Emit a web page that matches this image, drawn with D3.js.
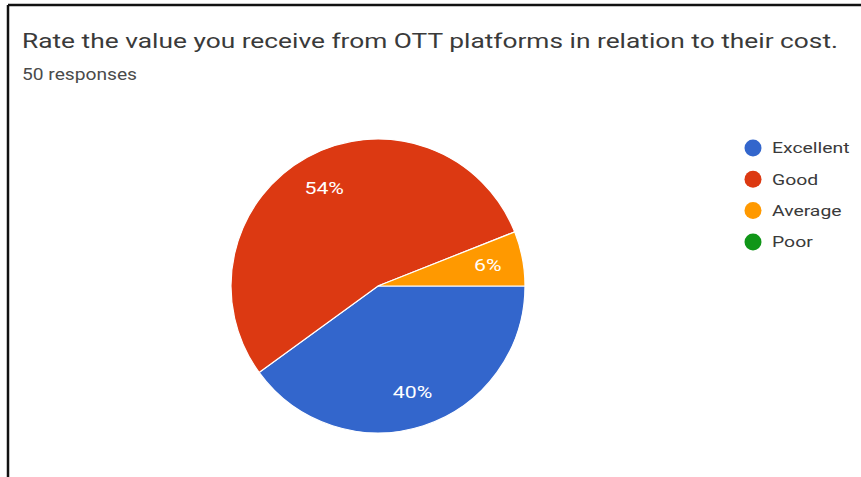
<!DOCTYPE html>
<html>
<head>
<meta charset="utf-8">
<script src="https://cdn.jsdelivr.net/npm/d3@7"></script>
<style>
  html, body { margin: 0; padding: 0; background: #fff; }
  svg { display: block; font-family: Roboto, "Noto Sans", Arial, sans-serif; }
</style>
</head>
<body>
<svg id="chart" width="861" height="477"></svg>
<script>
// Survey answers
const categories = ["Excellent", "Good", "Average", "Poor"];
const percents = [40, 54, 6, 0];
const colors = ["#3366cc", "#dc3912", "#ff9900", "#109618"];
const title = "Rate the value you receive from OTT platforms in relation to their cost.";
const subtitle = "50 responses";

const svg = d3.select("#chart");
const W = 861, H = 477;
const SX = 1.25; // wide lettering

// Frame around the card (top and left edges)
svg.append("line").attr("x1", 8).attr("y1", 5).attr("x2", W).attr("y2", 5)
  .attr("stroke", "#111").attr("stroke-width", 2.5);
svg.append("line").attr("x1", 8).attr("y1", 5).attr("x2", 8).attr("y2", H)
  .attr("stroke", "#111").attr("stroke-width", 2.5);

// Heading
svg.append("text").attr("x", 22).attr("y", 48)
  .attr("font-size", 21).attr("fill", "#3a3a3a")
  .attr("textLength", 816).attr("lengthAdjust", "spacingAndGlyphs")
  .text(title);
svg.append("text").attr("x", 22).attr("y", 80)
  .attr("font-size", 16).attr("fill", "#4a4a4a")
  .attr("textLength", 115).attr("lengthAdjust", "spacingAndGlyphs")
  .text(subtitle);

// Pie
const cx = 378, cy = 286, r = 147;
const data = categories.map((c, i) => ({ name: c, value: percents[i], color: colors[i] }));
const pie = d3.pie().value(d => d.value).sort(null)
  .startAngle(Math.PI / 2).endAngle(Math.PI / 2 + 2 * Math.PI);
const arcs = pie(data);
const arc = d3.arc().innerRadius(0).outerRadius(r);
const labelArc = d3.arc().innerRadius(r * 0.76).outerRadius(r * 0.76);

const g = svg.append("g").attr("transform", `translate(${cx},${cy})`);
g.selectAll("path").data(arcs.filter(a => a.data.value > 0)).join("path")
  .attr("d", arc)
  .attr("fill", d => d.data.color)
  .attr("stroke", "#fff").attr("stroke-width", 1.2);

g.selectAll("text.pct").data(arcs.filter(a => a.data.value > 0)).join("text")
  .attr("class", "pct")
  .attr("transform", d => `translate(${labelArc.centroid(d)}) scale(${SX},1)`)
  .attr("text-anchor", "middle").attr("dy", "0.35em")
  .attr("font-size", 17).attr("fill", "#fff")
  .text(d => d.data.value + "%");

// Legend
const legend = svg.append("g").attr("transform", "translate(753,148)");
const rows = legend.selectAll("g").data(data).join("g")
  .attr("transform", (d, i) => `translate(0,${i * 31.3})`);
rows.append("circle").attr("r", 8.5).attr("fill", d => d.color);
rows.append("text").attr("transform", `translate(19,0) scale(${SX},1)`)
  .attr("dy", "0.35em")
  .attr("font-size", 15.5).attr("fill", "#3a3a3a").text(d => d.name);
</script>
</body>
</html>
